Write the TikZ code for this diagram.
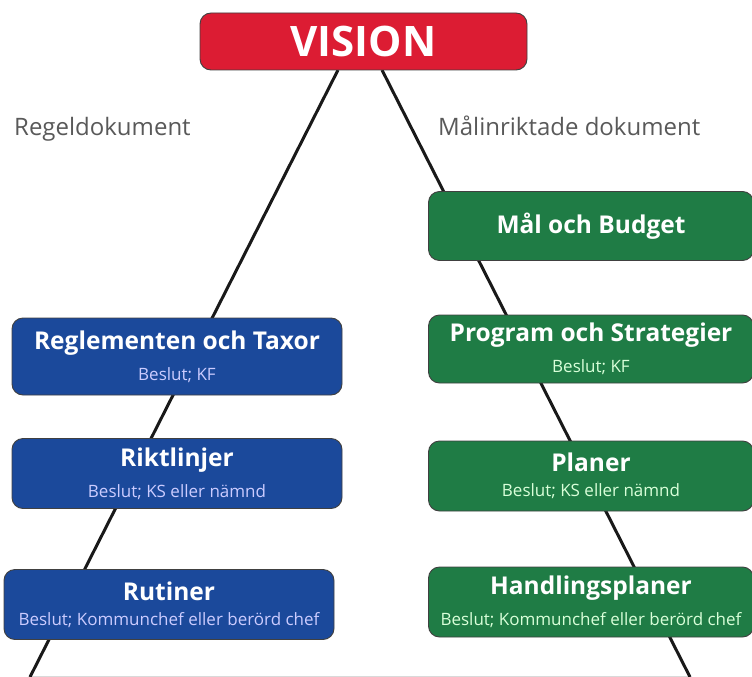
\documentclass[tikz,border=0pt]{standalone}
\usepackage{fontspec}
\setmainfont{Open Sans}
\definecolor{visred}{RGB}{220,28,51}
\definecolor{regblue}{RGB}{27,73,155}
\definecolor{malgreen}{RGB}{31,124,69}
\tikzset{
  box/.style={draw=black!75, line width=0.9pt, rounded corners=11pt, align=center,
    text=white, inner sep=0pt},
  leftbox/.style={box, fill=regblue, minimum width=330pt, minimum height=70pt},
  rightbox/.style={box, fill=malgreen, minimum width=325pt, minimum height=68pt},
  doclabel/.style={anchor=base west, inner sep=0pt, text=black!65, font=\fontsize{24}{26}\selectfont},
}
\newcommand{\boxtitle}[1]{{\bfseries\fontsize{24.5}{28}\selectfont #1}}
\newcommand{\boxsub}[2]{\\[11pt]{\fontsize{17}{18}\selectfont\color{#1}#2}}

\begin{document}
\begin{tikzpicture}[x=1pt,y=-1pt]
\useasboundingbox (0,0) rectangle (752,677);
% pyramid
\coordinate (topL) at (338,70);
\coordinate (topR) at (382,70);
\coordinate (botL) at (30,677);
\coordinate (botR) at (690,677);
\draw [black!15, line width=0.8pt] (30,676) -- (690,676);
\draw [line width=3pt, black!90] (topL) -- (botL);
\draw [line width=3pt, black!90] (topR) -- (botR);

\node [box, fill=visred, minimum width=327pt, minimum height=57pt,
  font=\bfseries\fontsize{42}{44}\selectfont] (vision) at (363.5,41.5) {VISION};

\node [doclabel] (regel) at (14,135) {Regeldokument};
\node [doclabel] (malinr) at (438,135) {Målinriktade dokument};

% regeldokument
\node [leftbox, minimum height=77pt] (reglem) at (177,356.5)
  {\boxtitle{Reglementen och Taxor}\boxsub{blue!20}{Beslut; KF}};
\node [leftbox] (riktl) at (177,473.5)
  {\boxtitle{Riktlinjer}\boxsub{blue!20}{Beslut; KS eller nämnd}};
\node [leftbox] (rutiner) at (169,604.5)
  {\boxtitle{Rutiner}\boxsub{blue!20}{Beslut; Kommunchef eller berörd chef}};

% malinriktade dokument
\node [rightbox, minimum height=69pt, font=\bfseries\fontsize{24.5}{28}\selectfont] (budget) at (591,226) {Mål och Budget};
\node [rightbox] (program) at (591,349)
  {\boxtitle{Program och Strategier}\boxsub{green!15}{Beslut; KF}};
\node [rightbox, minimum height=70pt] (planer) at (591,476)
  {\boxtitle{Planer}\boxsub{green!15}{Beslut; KS eller nämnd}};
\node [rightbox, minimum height=70pt] (handl) at (591,602)
  {\boxtitle{Handlingsplaner}\boxsub{green!15}{Beslut; Kommunchef eller berörd chef}};

\end{tikzpicture}
\end{document}
